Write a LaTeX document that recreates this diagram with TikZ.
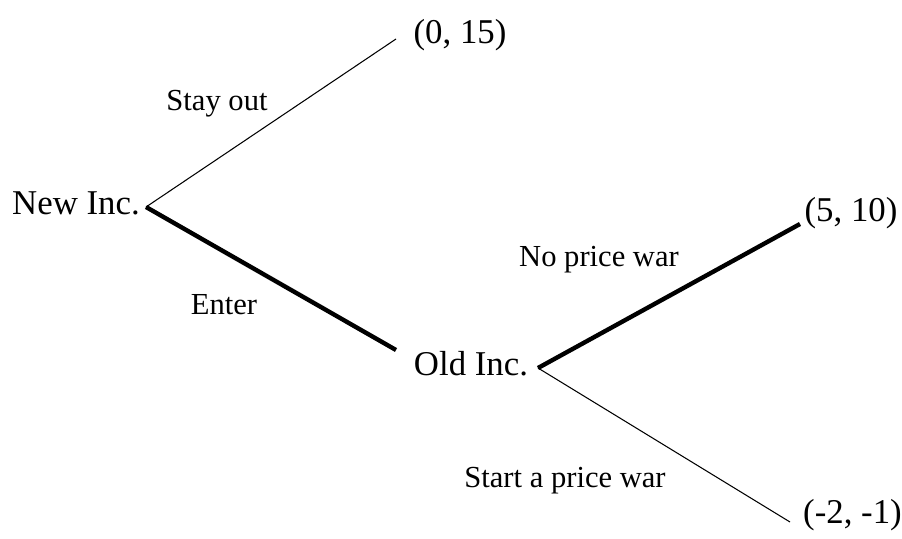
\documentclass[tikz,border=0pt]{standalone}
\usepackage{fontspec}
\setmainfont{Liberation Serif}
\usetikzlibrary{positioning}
\tikzset{
  jugador/.style={font=\fontsize{19.8}{23}\selectfont,inner sep=0pt,anchor=base},
  pago/.style={font=\fontsize{19.8}{23}\selectfont,inner sep=0pt},
  accion/.style={font=\fontsize{17.4}{20}\selectfont,inner sep=0pt,anchor=base},
  rama/.style={line width=0.6pt},
  ramagruesa/.style={line width=2.5pt},
}
\begin{document}
\begin{tikzpicture}
  \useasboundingbox (0,0) rectangle (18.04,10.76);
  % decision points and branch ends
  \coordinate (n1) at (2.92,6.62);
  \coordinate (n2) at (10.76,3.40);
  \coordinate (fin1) at (7.92,9.98);
  \coordinate (fin2) at (7.92,3.76);
  \coordinate (fin3) at (16.00,6.28);
  \coordinate (fin4) at (15.80,0.32);
  \node[jugador] (newinc) at (1.52,6.46) {New Inc.};
  \node[jugador] (oldinc) at (9.42,3.26) {Old Inc.};
  \node[pago] (p1) at (9.20,10.06) {(0, 15)};
  \node[pago] (p2) at (17.02,6.50) {(5, 10)};
  \node[pago] (p3) at (17.05,0.46) {(-2, -1)};
  \draw[rama] (n1) -- (fin1);
  \draw[ramagruesa] (n1) -- (fin2);
  \draw[ramagruesa] (n2) -- (fin3);
  \draw[rama] (n2) -- (fin4);
  \node[accion] (stay) at (4.34,8.54) {Stay out};
  \node[accion] (enter) at (4.48,4.48) {Enter};
  \node[accion] (nowar) at (11.98,5.42) {No price war};
  \node[accion] (war) at (11.30,1.02) {Start a price war};
\end{tikzpicture}
\end{document}
